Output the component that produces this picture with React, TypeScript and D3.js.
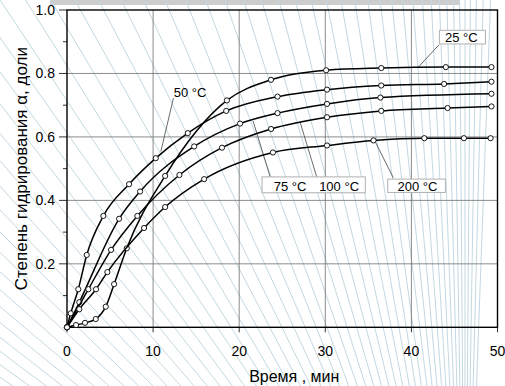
import React from 'react'
import * as d3 from 'd3'

const W = 505
const H = 386
const margin = { left: 67, top: 10, right: 7.5, bottom: 58.7 }

// время, мин / степень гидрирования, доли
const t25 = [0, 1.05, 2.09, 3.34, 4.5, 5.47, 6.94, 11.4, 18.57, 23.69, 30.1, 36.5, 44.0, 49.3]
const a25 = [0, 0.007, 0.014, 0.026, 0.065, 0.136, 0.249, 0.477, 0.715, 0.78, 0.81, 0.817, 0.82, 0.82]

const t50 = [0, 0.43, 1.31, 2.29, 4.22, 7.21, 10.31, 14.03, 18.49, 24.45, 30.2, 36.5, 43.8, 49.3]
const a50 = [0, 0.044, 0.12, 0.228, 0.351, 0.451, 0.533, 0.612, 0.682, 0.727, 0.749, 0.762, 0.767, 0.774]

const t75 = [0, 1.43, 6.05, 8.49, 14.77, 20.1, 24.45, 30.2, 36.4, 49.3]
const a75 = [0, 0.079, 0.342, 0.428, 0.57, 0.642, 0.675, 0.704, 0.724, 0.736]

const t100 = [0, 2.48, 5.12, 8.17, 13.06, 18.0, 23.7, 30.2, 36.5, 44.2, 49.3]
const a100 = [0, 0.12, 0.244, 0.351, 0.48, 0.566, 0.625, 0.662, 0.682, 0.691, 0.696]

const t200 = [0, 1.43, 3.37, 4.69, 8.95, 11.4, 15.93, 23.92, 30.2, 35.6, 41.5, 46.1, 49.2]
const a200 = [0, 0.057, 0.12, 0.174, 0.313, 0.379, 0.467, 0.551, 0.573, 0.589, 0.596, 0.596, 0.596]

const series = [
  { t: t25, a: a25 },
  { t: t50, a: a50 },
  { t: t75, a: a75 },
  { t: t100, a: a100 },
  { t: t200, a: a200 },
]

const xTicks = [0, 10, 20, 30, 40, 50]
const yTicks = [0.2, 0.4, 0.6, 0.8, 1.0]
const yMinor = [0.1, 0.3, 0.5, 0.7, 0.9]

// подписи: текст, центр текста, линия-выноска (в единицах графика)
const labels = [
  { text: '25 °C', x: 45.8, y: 0.898, from: [43.2, 0.89], to: [40.7, 0.817] },
  { text: '50 °C', x: 14.3, y: 0.726, from: [12.36, 0.722], to: [10.9, 0.554] },
  { text: '75 °C', x: 25.9, y: 0.431, from: [23.6, 0.474], to: [21.6, 0.651] },
  { text: '100 °C', x: 31.6, y: 0.431, from: [29.0, 0.474], to: [27.1, 0.644] },
  { text: '200 °C', x: 40.7, y: 0.43, from: [37.9, 0.471], to: [35.8, 0.585] },
]
// рамки подписей [x0, x1, yTop, yBottom]
const boxes = [
  [43.25, 48.6, 0.936, 0.893],
  [22.65, 34.65, 0.474, 0.424],
  [37.25, 43.95, 0.467, 0.425],
]

const font = "'Liberation Sans', Arial, sans-serif"

const App = () => {
  const x = d3.scaleLinear().domain([0, 50]).range([margin.left, W - margin.right])
  const y = d3.scaleLinear().domain([0, 1]).range([H - margin.bottom, margin.top])

  const line = d3.line<[number, number]>()
    .x(d => x(d[0]))
    .y(d => y(d[1]))
    .curve(d3.curveMonotoneX)

  // фон: светло-голубые линии веером
  const fx = 465, fy = 700
  const fan: number[] = []
  for (let k = -4; k < 50; k++) fan.push(5 * k + 0.35 * k * Math.abs(k))
  const bg = fan.map(u => {
    const x0 = fx - u
    const dx = x0 - fx, dy = 0 - fy
    const len = Math.hypot(dx, dy)
    return [fx, fy, fx + dx / len * 1500, fy + dy / len * 1500]
  })

  const x0 = x(0), x1 = x(50), y0 = y(0), y1 = y(1)

  return (
    <svg width={W} height={H} style={{ display: 'block', position: 'absolute', left: 0, top: 0 }}>
      <rect width={W} height={H} fill='#fff' />
      <rect x={50} y={0} width={410} height={5} fill='#cdcdcd' />
      <g stroke='#c3d8e2' strokeWidth={1}>
        {bg.map((l, i) => <line key={i} x1={l[0]} y1={l[1]} x2={l[2]} y2={l[3]} />)}
      </g>

      {/* сетка */}
      <g stroke='#6e6e6e' strokeWidth={0.8}>
        {xTicks.slice(1, -1).map(v => <line key={'gx' + v} x1={x(v)} x2={x(v)} y1={y0} y2={y1} />)}
        {yTicks.slice(0, -1).map(v => <line key={'gy' + v} x1={x0} x2={x1} y1={y(v)} y2={y(v)} />)}
      </g>

      {/* деления */}
      <g stroke='#333' strokeWidth={1}>
        {xTicks.map(v => <line key={'tx' + v} x1={x(v)} x2={x(v)} y1={y0} y2={y0 + 5} />)}
        {yTicks.map(v => <line key={'ty' + v} x1={x0 - 8} x2={x0} y1={y(v)} y2={y(v)} />)}
        {yMinor.map(v => <line key={'tm' + v} x1={x0 - 4} x2={x0} y1={y(v)} y2={y(v)} />)}
      </g>

      <rect x={x0} y={y1} width={x1 - x0} height={y0 - y1} fill='none' stroke='#000' strokeWidth={1.4} />

      {/* выноски */}
      <g stroke='#444' strokeWidth={0.8}>
        {labels.map(l => (
          <line key={'ld' + l.text} x1={x(l.from[0])} y1={y(l.from[1])} x2={x(l.to[0])} y2={y(l.to[1])} />
        ))}
      </g>
      {boxes.map((b, i) => (
        <rect key={'b' + i} x={x(b[0])} y={y(b[2])} width={x(b[1]) - x(b[0])} height={y(b[3]) - y(b[2])}
          fill='#fff' stroke='#b0b0b0' strokeWidth={1} />
      ))}

      {/* кривые */}
      {series.map((s, i) => {
        const pts = s.t.map((t, j) => [t, s.a[j]] as [number, number])
        return (
          <g key={'s' + i}>
            <path d={line(pts) || ''} fill='none' stroke='#000' strokeWidth={1.5} />
            {pts.map((p, j) => (
              <circle key={j} cx={x(p[0])} cy={y(p[1])} r={2.6} fill='#fff' stroke='#000' strokeWidth={0.9} />
            ))}
          </g>
        )
      })}

      <g fontFamily={font} fontSize={13} fill='#000' textAnchor='middle'>
        {labels.map(l => <text key={'lt' + l.text} x={x(l.x)} y={y(l.y)}>{l.text}</text>)}
      </g>

      <g fontFamily={font} fontSize={14} fill='#000'>
        {xTicks.map(v => <text key={'xl' + v} x={x(v)} y={y0 + 29} textAnchor='middle'>{v}</text>)}
        {yTicks.map(v => <text key={'yl' + v} x={x0 - 12} y={y(v) + 5} textAnchor='end'>{v.toFixed(1)}</text>)}
      </g>

      <text x={(x0 + x1) / 2 + 12} y={382} fontFamily={font} fontSize={16} textAnchor='middle'>Время , мин</text>
      <text transform={`translate(27, ${(y0 + y1) / 2})rotate(-90)`} fontFamily={font} fontSize={17} textAnchor='middle'>
        Степень гидрирования α, доли
      </text>
    </svg>
  )
}

export default App
